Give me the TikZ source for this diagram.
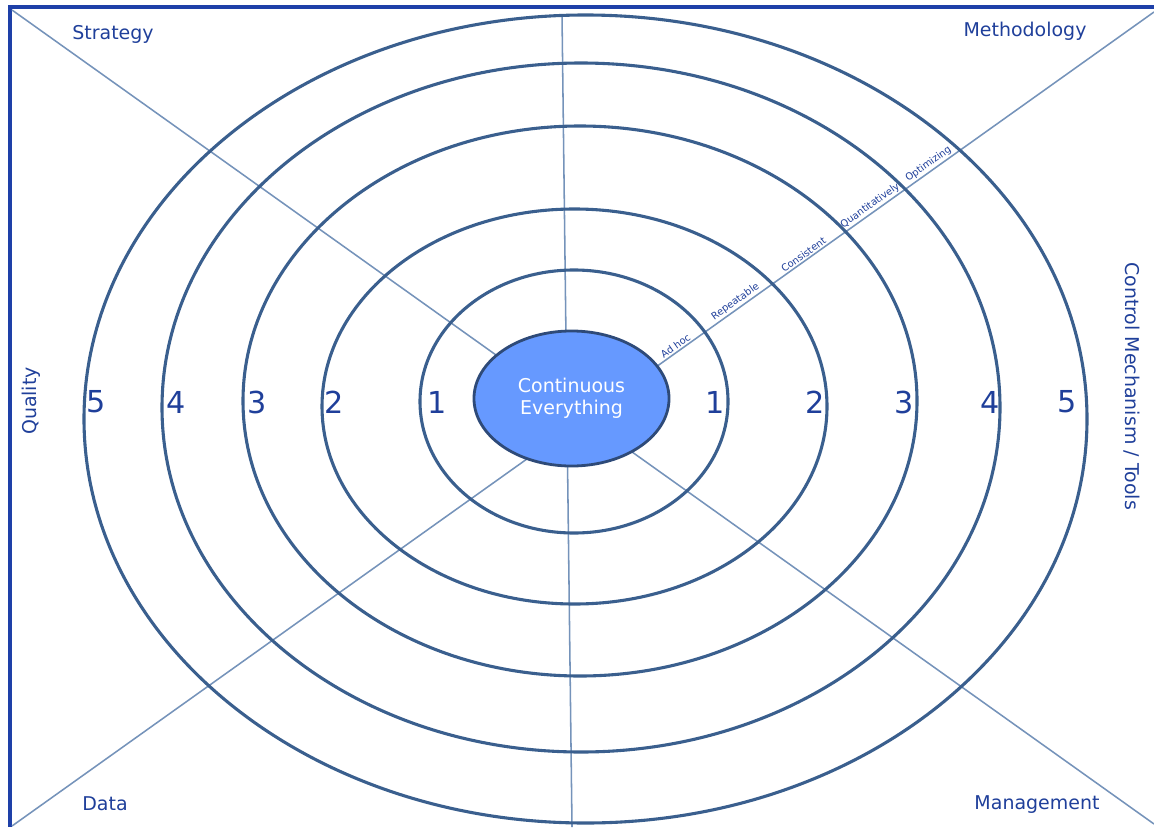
\documentclass[tikz,border=0pt]{standalone}
\usepackage{fontspec}
\setmainfont{DejaVu Sans}
\usetikzlibrary{shapes.geometric,positioning}

\definecolor{ringblue}{HTML}{3A5F8E}
\definecolor{spokeblue}{HTML}{7593BA}
\definecolor{textblue}{HTML}{1F3F9A}
\definecolor{frameblue}{HTML}{1E40A8}
\definecolor{corefill}{HTML}{6699FF}
\definecolor{coreedge}{HTML}{2E4A78}

\tikzset{
  ring/.style={draw=ringblue, line width=2.2pt},
  spoke/.style={draw=spokeblue, line width=1.1pt},
  area/.style={text=textblue, font=\fontsize{13.5}{16}\selectfont},
  level/.style={text=textblue, font=\fontsize{21.5}{24}\selectfont},
  stage/.style={text=textblue, font=\fontsize{7}{8}\selectfont, sloped, above, inner sep=1pt},
  core/.style={ellipse, draw=coreedge, line width=2pt, fill=corefill, text=white,
    align=center, inner sep=0pt, minimum width=4.875cm, minimum height=3.375cm,
    font=\fontsize{13.5}{15.6}\selectfont}
}

\begin{document}
\begin{tikzpicture}[x=0.025cm, y=-0.025cm]
  \useasboundingbox (0,0) rectangle (1154,827);
  % frame
  \draw[frameblue, line width=2.4pt] (1154,7) -| (10,827);

  % spokes
  \coordinate (tl) at (12,10);
  \coordinate (tr) at (1154,12);
  \coordinate (bl) at (12,826);
  \coordinate (br) at (1154,824);
  \coordinate (vt) at (562,15);
  \coordinate (vb) at (572,827);
  \draw[spoke] (tl) -- (br);
  \draw[spoke] (vt) -- (vb);
  \draw[spoke] (bl) -- (tr)
    node[stage, pos=0.584] (adhoc) {Ad hoc}
    node[stage, pos=0.637] (repeat) {Repeatable}
    node[stage, pos=0.696] (consist) {Consistent}
    node[stage, pos=0.755] (quant) {Quantitatively}
    node[stage, pos=0.806] (optim) {Optimizing};

  % rings
  \foreach \cx/\cy/\rx/\ry in {574/401.5/154/131.5, 574.5/406.5/252.5/197.5,
      580/401/337/275, 581/407.5/419/344.5, 585.5/419/501.5/404}
    \draw[ring] (\cx,\cy) ellipse [x radius=\rx, y radius=\ry];

  \node[core] (core) at (571.5,398.5) {Continuous\\Everything};

  % levels
  \foreach \x/\n in {96/5, 176/4, 257/3, 334/2, 437/1, 715/1, 815/2, 904/3, 990/4, 1067/5}
    \node[level] (lvl\x) at (\x,402) {\n};

  % areas
  \node[area] (strategy) at (113,34) {Strategy};
  \node[area] (method) at (1025,31) {Methodology};
  \node[area] (data) at (105,804) {Data};
  \node[area] (manage) at (1037,805) {Management};
  \node[area, rotate=90] (quality) at (31,401) {Quality};
  \node[area, rotate=-90] (control) at (1132,386) {Control Mechanism / Tools};
\end{tikzpicture}
\end{document}
